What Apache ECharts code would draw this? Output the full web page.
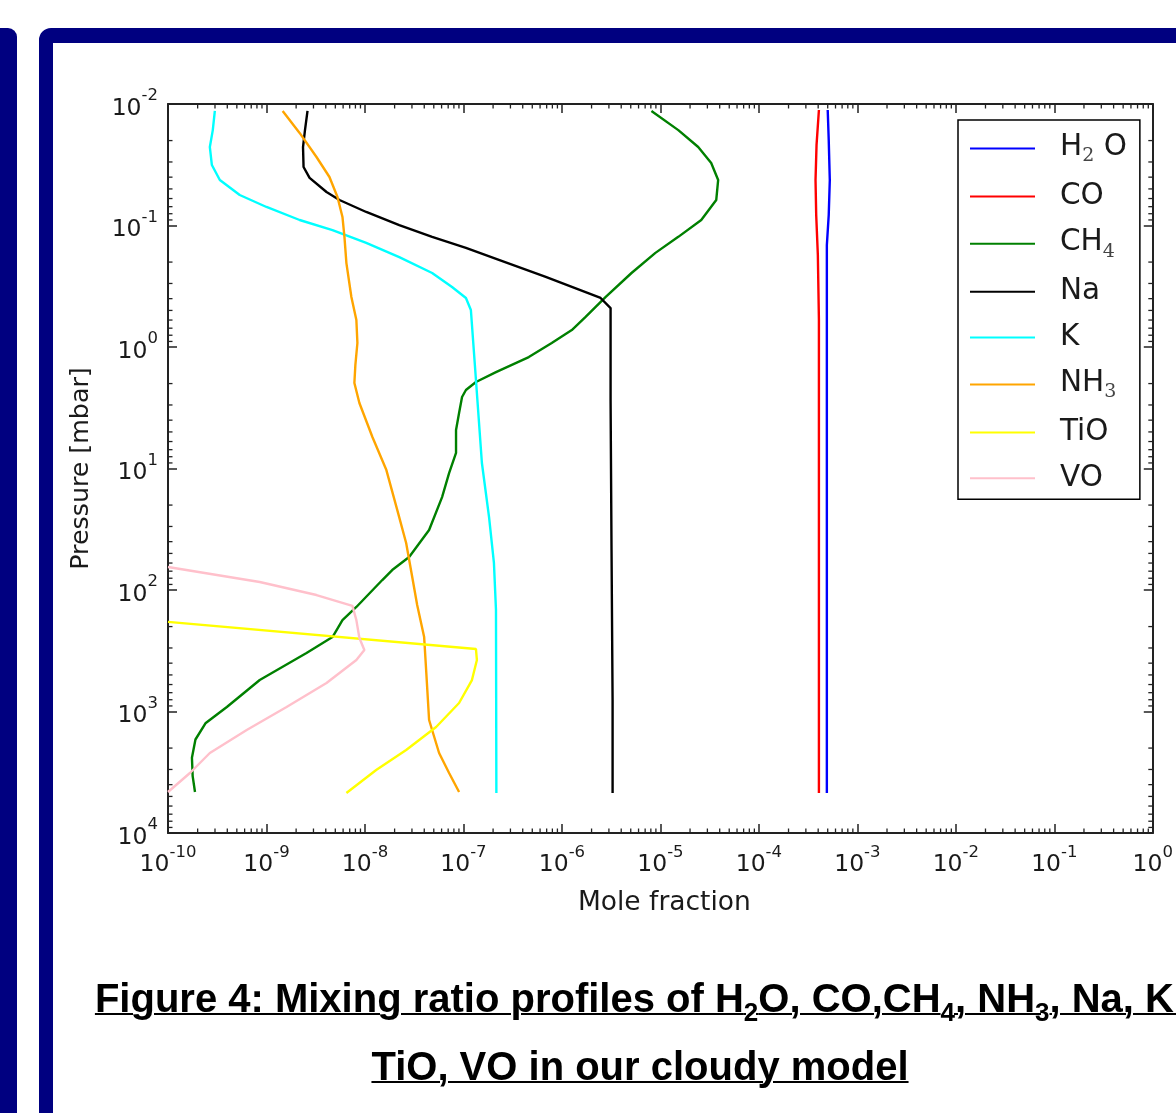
<!DOCTYPE html>
<html>
<head>
<meta charset="utf-8">
<script src="https://cdn.jsdelivr.net/npm/echarts@6/dist/echarts.min.js"></script>
<style>
html,body{margin:0;padding:0;width:1176px;height:1113px;overflow:hidden;background:#fff;}
#strip{position:absolute;left:-20px;top:28px;width:37px;height:1300px;background:#000080;border-radius:9px;}
#panel{position:absolute;left:39px;top:28px;width:1400px;height:1300px;box-sizing:border-box;border-style:solid;border-color:#000080;border-width:15px 14px 14px 14px;border-radius:12px;background:#fff;}
#chart{position:absolute;left:0;top:0;width:1176px;height:1113px;}
#caption{position:absolute;left:0;top:964px;width:1280px;text-align:center;font-family:"Liberation Sans",Arial,sans-serif;font-weight:bold;font-size:40px;line-height:68px;color:#000;white-space:nowrap;}
#caption span{text-decoration:underline;text-decoration-thickness:2px;}
#caption sub{font-size:26px;vertical-align:-9px;line-height:0;}
</style>
</head>
<body>
<div id="strip"></div>
<div id="panel"></div>
<div id="chart"></div>
<div id="caption"><span>Figure 4: Mixing ratio profiles of H<sub>2</sub>O, CO,CH<sub>4</sub>, NH<sub>3</sub>, Na, K,</span><br><span>TiO, VO in our cloudy model</span></div>
<script>
// ---- data: [mole fraction, pressure (mbar)] ----
const H2O = [[5.0e-4,0.0112],[5.12e-4,0.0198],[5.25e-4,0.0422],[5.12e-4,0.082],[4.9e-4,0.145],[4.9e-4,4690]];
const CO = [[4.07e-4,0.0112],[3.85e-4,0.0218],[3.76e-4,0.0422],[3.82e-4,0.082],[3.97e-4,0.175],[4.07e-4,0.60],[4.07e-4,4690]];
const CH4 = [[8.11e-6,0.0114],[1.52e-5,0.0164],[2.42e-5,0.0226],[3.28e-5,0.0306],[3.86e-5,0.0422],[3.69e-5,0.0617],[2.60e-5,0.0901],[1.52e-5,0.124],[8.90e-6,0.168],[5.09e-6,0.246],[2.77e-6,0.388],[1.74e-6,0.566],[1.26e-6,0.725],[7.88e-7,0.927],[4.61e-7,1.21],[2.14e-7,1.61],[1.34e-7,1.94],[1.06e-7,2.26],[9.68e-8,2.58],[9.03e-8,3.49],[8.41e-8,4.82],[8.41e-8,7.45],[7.15e-8,10.9],[6.07e-8,17.2],[4.48e-8,32.1],[2.81e-8,53.5],[1.89e-8,68.5],[1.50e-8,82.8],[8.18e-9,138],[5.91e-9,177],[4.68e-9,244],[2.55e-9,330],[8.54e-10,551],[3.96e-10,918],[2.40e-10,1250],[1.90e-10,1700],[1.75e-10,2400],[1.78e-10,3400],[1.88e-10,4600]];
const Na = [[2.61e-9,0.0114],[2.46e-9,0.0164],[2.35e-9,0.0226],[2.38e-9,0.033],[2.74e-9,0.0406],[4.07e-9,0.053],[5.51e-9,0.0617],[1.03e-8,0.0774],[2.23e-8,0.0991],[4.81e-8,0.124],[1.06e-7,0.153],[2.29e-7,0.192],[6.85e-7,0.265],[2.47e-6,0.395],[3.12e-6,0.478],[3.12e-6,2.73],[3.19e-6,46.9],[3.27e-6,804],[3.27e-6,4690]];
const K = [[2.99e-10,0.0114],[2.85e-10,0.0164],[2.66e-10,0.0226],[2.79e-10,0.0318],[3.36e-10,0.0422],[5.35e-10,0.0561],[1.0e-9,0.0704],[2.17e-9,0.0901],[4.68e-9,0.109],[1.03e-8,0.139],[2.23e-8,0.182],[4.81e-8,0.246],[7.66e-8,0.321],[1.06e-7,0.395],[1.19e-7,0.496],[1.34e-7,1.87],[1.54e-7,9.01],[1.82e-7,25.1],[2.04e-7,59.9],[2.14e-7,146],[2.16e-7,4690]];
const NH3 = [[1.46e-9,0.0114],[2.17e-9,0.0173],[3.22e-9,0.0273],[4.36e-9,0.0399],[5.26e-9,0.0583],[5.91e-9,0.0851],[6.19e-9,0.124],[6.48e-9,0.204],[7.28e-9,0.388],[8.18e-9,0.60],[8.38e-9,0.927],[7.99e-9,1.41],[7.81e-9,1.98],[8.78e-9,2.89],[1.19e-8,5.50],[1.65e-8,10.3],[2.13e-8,22.0],[2.62e-8,41.0],[3.02e-8,78.2],[3.39e-8,133],[3.99e-8,244],[4.18e-8,455],[4.48e-8,1175],[5.66e-8,2196],[7.15e-8,3208],[9.03e-8,4598]];
const TiO = [[1.0e-10,183],[1.34e-7,306],[1.37e-7,377],[1.22e-7,551],[9.03e-8,851],[5.28e-8,1342],[2.62e-8,2074],[1.30e-8,3030],[6.48e-9,4690]];
const VO = [[1.0e-10,64.7],[8.54e-10,86.0],[3.22e-9,110],[7.46e-9,135],[8.18e-9,177],[8.78e-9,248],[9.86e-9,312],[8.18e-9,377],[4.07e-9,583],[1.60e-9,918],[6.30e-10,1420],[2.66e-10,2196],[1.67e-10,3208],[1.0e-10,4598]];

const speciesNames = ['H2O','CO','CH4','Na','K','NH3','TiO','VO'];
const speciesData = [H2O, CO, CH4, Na, K, NH3, TiO, VO];
const speciesColors = ['#0000ff','#ff0000','#008000','#000000','#00ffff','#ffa500','#ffff00','#ffc0cb'];
const legendLabels = {
  H2O: '{g| }{t|H}{sub|2}{t| O}', CO: '{g| }{t|CO}', CH4: '{g| }{t|CH}{sub|4}', Na: '{g| }{t|Na}',
  K: '{g| }{t|K}', NH3: '{g| }{t|NH}{sub|3}', TiO: '{g| }{t|TiO}', VO: '{g| }{t|VO}'
};

// axis ranges and minor tick positions
const xMin = 1e-10, xMax = 1;
const yMin = 0.01, yMax = 1e4;
const xDecades = [-10,-9,-8,-7,-6,-5,-4,-3,-2,-1];
const yDecades = [-2,-1,0,1,2,3];
const minorMultipliers = [2,3,4,5,6,7,8,9];

const xMinor = [];
xDecades.forEach(d => minorMultipliers.forEach(m => xMinor.push(m * Math.pow(10, d))));
const yMinor = [];
yDecades.forEach(d => minorMultipliers.forEach(m => yMinor.push(m * Math.pow(10, d))));

const textColor = '#1a1a1a';
const font = 'DejaVu Sans';

function expLabel(v) {
  const e = Math.round(Math.log10(v));
  return '{b|10}{s|' + e + '}';
}
const tickRich = {
  b: {fontFamily: font, fontSize: 23.5, color: textColor, padding: [9,0,0,0], verticalAlign: 'bottom'},
  s: {fontFamily: font, fontSize: 16.5, color: textColor, verticalAlign: 'top'}
};

const chart = echarts.init(document.getElementById('chart'), null, {renderer: 'canvas'});

const lineSeries = speciesNames.map((n, i) => ({
  name: n, type: 'line', data: speciesData[i], symbol: 'none', showSymbol: false,
  xAxisIndex: 0, yAxisIndex: 0, clip: true, z: 3,
  itemStyle: {color: speciesColors[i]},
  lineStyle: {color: speciesColors[i], width: 2.4},
  emphasis: {disabled: true}, animation: false
}));

const minorTickLen = 4.5;
const xMinorSeries = {
  type: 'custom', silent: true, animation: false, z: 4,
  xAxisIndex: 0, yAxisIndex: 0,
  data: xMinor.map(v => [v, 1]),
  renderItem: function (params, api) {
    const b = api.coord([api.value(0), yMax]);
    const t = api.coord([api.value(0), yMin]);
    return {type: 'group', children: [
      {type: 'line', shape: {x1: b[0], y1: b[1], x2: b[0], y2: b[1] - minorTickLen}, style: {stroke: '#222', lineWidth: 1.3}},
      {type: 'line', shape: {x1: t[0], y1: t[1], x2: t[0], y2: t[1] + minorTickLen}, style: {stroke: '#222', lineWidth: 1.3}}
    ]};
  }
};
const yMinorSeries = {
  type: 'custom', silent: true, animation: false, z: 4,
  xAxisIndex: 0, yAxisIndex: 0,
  data: yMinor.map(v => [1e-5, v]),
  renderItem: function (params, api) {
    const l = api.coord([xMin, api.value(1)]);
    const r = api.coord([xMax, api.value(1)]);
    return {type: 'group', children: [
      {type: 'line', shape: {x1: l[0], y1: l[1], x2: l[0] + minorTickLen, y2: l[1]}, style: {stroke: '#222', lineWidth: 1.3}},
      {type: 'line', shape: {x1: r[0], y1: r[1], x2: r[0] - minorTickLen, y2: r[1]}, style: {stroke: '#222', lineWidth: 1.3}}
    ]};
  }
};

const axisLine = {show: true, lineStyle: {color: '#222', width: 2}};
const majorTick = {show: true, inside: true, length: 9, lineStyle: {color: '#222', width: 1.5}};
const labelInterval = {interval: 0, hideOverlap: false};

const option = {
  animation: false,
  backgroundColor: 'transparent',
  grid: {left: 168, top: 104, right: 20, bottom: 280, show: false},
  xAxis: [
    {type: 'log', logBase: 10, min: xMin, max: xMax, interval: 1, splitNumber: 10, position: 'bottom',
     axisLine: axisLine, axisTick: majorTick, splitLine: {show: false}, minorTick: {show: false},
     axisLabel: Object.assign({show: true, margin: 11, formatter: expLabel, rich: tickRich, showMinLabel: true, showMaxLabel: true}, labelInterval),
     name: 'Mole fraction', nameLocation: 'middle', nameGap: 57,
     nameTextStyle: {fontFamily: font, fontSize: 26.5, color: textColor, padding: [0, 0, 0, 8]}},
    {type: 'log', logBase: 10, min: xMin, max: xMax, interval: 1, splitNumber: 10, position: 'top',
     axisLine: axisLine, axisTick: majorTick, splitLine: {show: false}, axisLabel: {show: false}}
  ],
  yAxis: [
    {type: 'log', logBase: 10, min: yMin, max: yMax, interval: 1, splitNumber: 6, inverse: true, position: 'left',
     axisLine: axisLine, axisTick: majorTick, splitLine: {show: false},
     axisLabel: Object.assign({show: true, margin: 10, formatter: expLabel, rich: tickRich, showMinLabel: true, showMaxLabel: true}, labelInterval),
     name: 'Pressure [mbar]', nameLocation: 'middle', nameGap: 74, nameRotate: 90,
     nameTextStyle: {fontFamily: font, fontSize: 25.3, color: textColor}},
    {type: 'log', logBase: 10, min: yMin, max: yMax, interval: 1, splitNumber: 6, inverse: true, position: 'right',
     axisLine: axisLine, axisTick: majorTick, splitLine: {show: false}, axisLabel: {show: false}}
  ],
  legend: {
    show: true, orient: 'vertical', left: 958, top: 120,
    data: speciesNames,
    icon: 'rect', itemWidth: 65, itemHeight: 2, itemGap: 15.6,
    padding: [12, 13, 6, 12],
    backgroundColor: '#fff', borderColor: '#000', borderWidth: 1.5, borderRadius: 0,
    selectedMode: false,
    formatter: function (n) { return legendLabels[n]; },
    textStyle: {
      color: textColor,
      rich: {
        g: {width: 20, fontSize: 10, height: 32},
        t: {fontFamily: font, fontSize: 29.5, color: textColor, height: 32, verticalAlign: 'top'},
        sub: {fontFamily: 'DejaVu Serif', fontSize: 19, color: '#444', padding: [16,0,0,0], verticalAlign: 'top'}
      }
    }
  },
  series: lineSeries.concat([xMinorSeries, yMinorSeries])
};
chart.setOption(option);
</script>
</body>
</html>
